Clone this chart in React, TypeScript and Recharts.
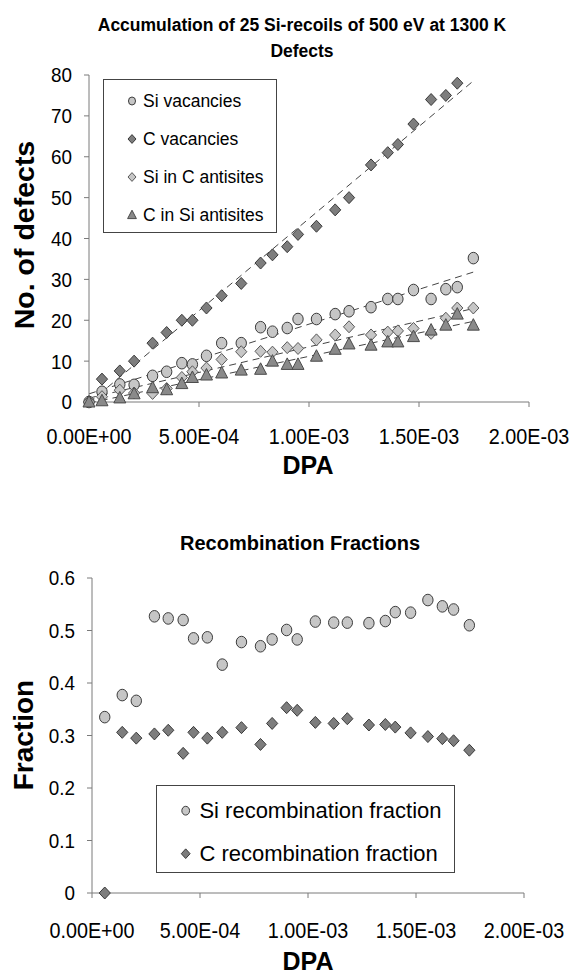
import React from 'react';
import { ScatterChart, Scatter, XAxis, YAxis, ReferenceLine } from 'recharts';

const FONT = '"Liberation Sans", Arial, sans-serif';

// DPA after each recoil (first point is the undamaged start)
const dpa = [
  0, 0.000059, 0.00014, 0.000205, 0.000289, 0.000353, 0.000422, 0.00047, 0.000534,
  0.000603, 0.000692, 0.00078, 0.000834, 0.000901, 0.00095, 0.001034, 0.001119,
  0.001182, 0.001282, 0.001358, 0.001404, 0.001475, 0.001555, 0.001622, 0.001674, 0.001747,
];

const siVacancies = [
  0, 2.5, 4.3, 4.2, 6.4, 7.4, 9.5, 9.2, 11.3, 14.4, 14.4, 18.3, 17.2, 18.1, 20.3, 20.3,
  21.5, 22.2, 23.2, 25.2, 25.2, 27.4, 25.2, 27.6, 28.1, 35.2,
];
// last C vacancy value lies above the 80 limit, not drawn in the figure
const cVacancies = [
  0, 5.6, 7.6, 10, 14.4, 17, 20, 20, 23, 26, 29, 34, 36, 38, 41, 43, 47, 50, 58, 61, 63,
  68, 74, 75, 78,
];
const siInCAntisites = [
  0, 1.3, 2.9, 2.2, 2.1, 3.3, 6, 7.4, 8.3, 10.4, 12.3, 12.4, 12.2, 13.3, 13.1, 15.2, 16.4,
  18.4, 16.4, 17.1, 17.4, 18, 16.8, 20.5, 23, 23,
];
const cInSiAntisites = [
  0, 0.3, 1, 2, 3.5, 3, 4.5, 6, 6.6, 7.1, 7.8, 8, 10, 9.2, 9.2, 11.2, 12.9, 14.2, 13.9,
  14.7, 14.7, 16, 17.6, 18.8, 21.5, 18.8,
];

// recombination fractions, one per recoil (dpa[1..])
const siRecombination = [
  0.335, 0.377, 0.366, 0.527, 0.523, 0.52, 0.485, 0.487, 0.435, 0.478, 0.47, 0.483, 0.501,
  0.483, 0.517, 0.515, 0.515, 0.514, 0.518, 0.535, 0.534, 0.558, 0.546, 0.54, 0.51,
];
const cRecombination = [
  0, 0.306, 0.295, 0.303, 0.31, 0.266, 0.306, 0.295, 0.306, 0.315, 0.283, 0.323, 0.353,
  0.348, 0.325, 0.323, 0.332, 0.32, 0.321, 0.316, 0.305, 0.298, 0.294, 0.29, 0.272,
];

const dpaTicks = [0, 0.0005, 0.001, 0.0015, 0.002];
const defectTicks = [0, 10, 20, 30, 40, 50, 60, 70, 80];
const fractionTicks = [0, 0.1, 0.2, 0.3, 0.4, 0.5, 0.6];

const toPoints = (xs: number[], ys: number[]) => ys.map((y, i) => ({ x: xs[i], y }));

// Excel style linear trendline over the dpa range
function trend(ys: number[]) {
  const xs = dpa.slice(0, ys.length);
  const n = ys.length;
  const mx = xs.reduce((a, b) => a + b, 0) / n;
  const my = ys.reduce((a, b) => a + b, 0) / n;
  let sxy = 0, sxx = 0;
  xs.forEach((x, i) => { sxy += (x - mx) * (ys[i] - my); sxx += (x - mx) * (x - mx); });
  const m = sxy / sxx;
  const b = my - m * mx;
  const xe = dpa[dpa.length - 1];
  return [{ x: 0, y: b }, { x: xe, y: b + m * xe }];
}

function sci(v: number) {
  if (v === 0) return '0.00E+00';
  const [mant, e] = v.toExponential(2).split('e');
  const n = Number(e);
  return `${mant}E${n < 0 ? '-' : '+'}${String(Math.abs(n)).padStart(2, '0')}`;
}

function makeTick(fmt: (v: number) => string, size: number, sx: number, anchor: string, dy: string) {
  return (props: any) => {
    const { x, y, payload } = props;
    return (
      <g transform={`translate(${x},${y})`}>
        <text transform={`scale(${sx},1)`} textAnchor={anchor} dy={dy} fontSize={size} fill="#000" fontFamily={FONT}>
          {fmt(payload.value)}
        </text>
      </g>
    );
  };
}

const xTick = makeTick(sci, 22, 0.9, 'middle', '0.72em');
const yTickTop = makeTick(v => String(v), 20.5, 0.92, 'end', '0.36em');
const yTickBottom = makeTick(v => String(Math.round(v * 10) / 10), 20.5, 0.92, 'end', '0.36em');

const LIGHT = '#c6c6c6';
const DARK = '#7d7d7d';

const circleShape = (p: any) => (
  <ellipse cx={p.cx} cy={p.cy} rx={5.2} ry={5.8} fill={LIGHT} stroke="#3c3c3c" strokeWidth={1} />
);
const darkDiamond = (p: any) => (
  <path d={`M${p.cx},${p.cy - 6}L${p.cx + 5.6},${p.cy}L${p.cx},${p.cy + 6}L${p.cx - 5.6},${p.cy}Z`} fill={DARK} stroke="#3a3a3a" strokeWidth={1} />
);
const lightDiamond = (p: any) => (
  <path d={`M${p.cx},${p.cy - 6}L${p.cx + 5.6},${p.cy}L${p.cx},${p.cy + 6}L${p.cx - 5.6},${p.cy}Z`} fill={LIGHT} stroke="#5a5a5a" strokeWidth={1} />
);
const triangle = (p: any) => (
  <path d={`M${p.cx},${p.cy - 6.5}L${p.cx + 6},${p.cy + 5}L${p.cx - 6},${p.cy + 5}Z`} fill="#8a8a8a" stroke="#4a4a4a" strokeWidth={1} />
);

function Marker({ kind, size = 1 }: { kind: string; size?: number }) {
  const s = 14 * size;
  const c = s / 2;
  const k = 0.8 * size;
  let el: React.ReactNode = null;
  if (kind === 'circle') el = <ellipse cx={c} cy={c} rx={4.4 * k} ry={5 * k} fill={LIGHT} stroke="#3c3c3c" />;
  if (kind === 'dark') el = <path d={`M${c},${c - 5.5 * k}L${c + 5 * k},${c}L${c},${c + 5.5 * k}L${c - 5 * k},${c}Z`} fill={DARK} stroke="#3a3a3a" />;
  if (kind === 'light') el = <path d={`M${c},${c - 5.5 * k}L${c + 5 * k},${c}L${c},${c + 5.5 * k}L${c - 5 * k},${c}Z`} fill={LIGHT} stroke="#5a5a5a" />;
  if (kind === 'tri') el = <path d={`M${c},${c - 6 * k}L${c + 5.5 * k},${c + 4.5 * k}L${c - 5.5 * k},${c + 4.5 * k}Z`} fill="#8a8a8a" stroke="#4a4a4a" />;
  return <svg width={s} height={s} style={{ display: 'block' }}>{el}</svg>;
}

const topLegend = [
  { kind: 'circle', label: 'Si vacancies' },
  { kind: 'dark', label: 'C vacancies' },
  { kind: 'light', label: 'Si in C antisites' },
  { kind: 'tri', label: 'C in Si antisites' },
];
const bottomLegend = [
  { kind: 'circle', label: 'Si recombination fraction' },
  { kind: 'dark', label: 'C recombination fraction' },
];

const abs = (left: number, top: number): React.CSSProperties => ({ position: 'absolute', left, top });

function CenterText({ x, y, size, text, rotate = false }: { x: number; y: number; size: number; text: string; rotate?: boolean }) {
  return (
    <div style={{
      ...abs(x, y), transform: `translate(-50%,-50%)${rotate ? ' rotate(-90deg)' : ''}`,
      whiteSpace: 'nowrap', fontWeight: 'bold', fontSize: size, lineHeight: 1, fontFamily: FONT,
    }}>{text}</div>
  );
}

const axisStroke = { stroke: '#7a7a7a', strokeWidth: 1 };

export default function App() {
  return (
    <div style={{ position: 'absolute', left: 0, top: 0, width: 571, height: 978, background: '#fff', fontFamily: FONT, color: '#000', overflow: 'hidden' }}>
      <div style={abs(0, 0)}>
        <ScatterChart width={571} height={500} margin={{ top: 75, right: 42, bottom: 58, left: 0 }}>
          <XAxis type="number" dataKey="x" domain={[0, 0.002]} ticks={dpaTicks} tick={xTick}
            axisLine={axisStroke} tickLine={axisStroke} tickSize={5} tickMargin={21} height={40} />
          <YAxis type="number" dataKey="y" domain={[0, 80]} ticks={defectTicks} tick={yTickTop}
            axisLine={axisStroke} tickLine={axisStroke} tickSize={5} tickMargin={12} width={89} />
          <ReferenceLine segment={trend(siVacancies)} stroke="#444" strokeDasharray="7 5" ifOverflow="hidden" />
          <ReferenceLine segment={trend(cVacancies)} stroke="#444" strokeDasharray="7 5" ifOverflow="hidden" />
          <ReferenceLine segment={trend(siInCAntisites)} stroke="#444" strokeDasharray="7 5" ifOverflow="hidden" />
          <ReferenceLine segment={trend(cInSiAntisites)} stroke="#444" strokeDasharray="7 5" ifOverflow="hidden" />
          <Scatter data={toPoints(dpa, siVacancies)} shape={circleShape} isAnimationActive={false} />
          <Scatter data={toPoints(dpa, cVacancies)} shape={darkDiamond} isAnimationActive={false} />
          <Scatter data={toPoints(dpa, siInCAntisites)} shape={lightDiamond} isAnimationActive={false} />
          <Scatter data={toPoints(dpa, cInSiAntisites)} shape={triangle} isAnimationActive={false} />
        </ScatterChart>
      </div>

      <div style={abs(0, 500)}>
        <ScatterChart width={571} height={478} margin={{ top: 78, right: 47, bottom: 45, left: 0 }}>
          <XAxis type="number" dataKey="x" domain={[0, 0.002]} ticks={dpaTicks} tick={xTick}
            axisLine={axisStroke} tickLine={axisStroke} tickSize={5} tickMargin={24} height={40} />
          <YAxis type="number" dataKey="y" domain={[0, 0.6]} ticks={fractionTicks} tick={yTickBottom}
            axisLine={axisStroke} tickLine={axisStroke} tickSize={5} tickMargin={12} width={92} />
          <Scatter data={toPoints(dpa.slice(1), siRecombination)} shape={circleShape} isAnimationActive={false} />
          <Scatter data={toPoints(dpa.slice(1), cRecombination)} shape={darkDiamond} isAnimationActive={false} />
        </ScatterChart>
      </div>

      <div style={{ ...abs(0, 12), width: 604, textAlign: 'center', fontWeight: 'bold', fontSize: 17.5, lineHeight: '26px' }}>
        Accumulation of 25 Si-recoils of 500 eV at 1300 K<br />Defects
      </div>
      <CenterText x={300} y={543} size={20} text="Recombination Fractions" />
      <CenterText x={24} y={235} size={28.5} text="No. of defects" rotate />
      <CenterText x={24} y={735} size={28} text="Fraction" rotate />
      <CenterText x={308} y={465} size={25} text="DPA" />
      <CenterText x={308} y={961} size={25} text="DPA" />

      <div style={{ ...abs(103, 79), width: 174, height: 154, border: '1px solid #444', background: '#fff', boxSizing: 'border-box' }}>
        {topLegend.map((it, i) => (
          <div key={it.label} style={{ ...abs(21, 21 + i * 38 - 10), display: 'flex', alignItems: 'center', height: 20 }}>
            <Marker kind={it.kind} />
            <span style={{ marginLeft: 4, fontSize: 17.5, whiteSpace: 'nowrap' }}>{it.label}</span>
          </div>
        ))}
      </div>

      <div style={{ ...abs(156, 785), width: 299, height: 88, border: '1px solid #444', background: '#fff', boxSizing: 'border-box' }}>
        {bottomLegend.map((it, i) => (
          <div key={it.label} style={{ ...abs(21, 25 + i * 43 - 13), display: 'flex', alignItems: 'center', height: 26 }}>
            <Marker kind={it.kind} size={1.1} />
            <span style={{ marginLeft: 6, fontSize: 22, whiteSpace: 'nowrap' }}>{it.label}</span>
          </div>
        ))}
      </div>
    </div>
  );
}
